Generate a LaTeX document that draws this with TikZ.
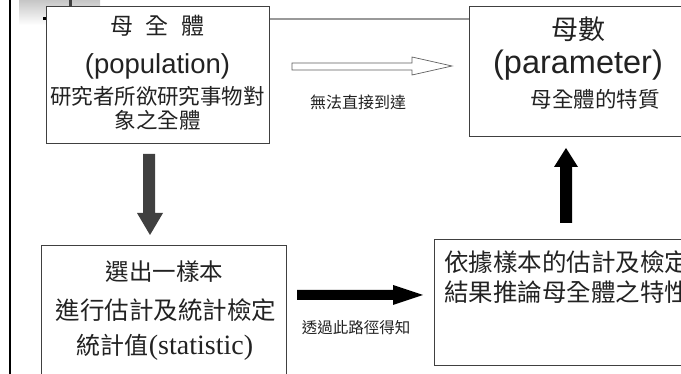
\documentclass[tikz,border=0pt]{standalone}
\usepackage{fontspec}
\setmainfont{Liberation Sans}
\newfontfamily\cjk{Noto Sans CJK TC}
\newfontfamily\serifL{Liberation Serif}
\newcommand\fsz[1]{\fontsize{#1}{#1}\selectfont}
\definecolor{boxc}{HTML}{404040}
\definecolor{txtc}{HTML}{222222}
\definecolor{arrc}{HTML}{404040}
\definecolor{hollowc}{HTML}{606060}
\definecolor{rulec}{HTML}{999999}
\begin{document}
\begin{tikzpicture}[x=1pt,y=-1pt,
  box/.style={draw=boxc, line width=1pt, fill=white, inner sep=0pt},
  txt/.style={inner sep=0pt, text=txtc},
  blockarrow/.style={fill=black, draw=none}]
\useasboundingbox (0,0) rectangle (681,374);
\clip (0,0) rectangle (681,374);
\fill[white] (0,0) rectangle (681,374);
% template decoration
\shade[top color=gray!45, bottom color=white] (19,0) rectangle (100,25);
\fill[black!75] (69,0) rectangle (72,6);
\draw[rulec, line width=2pt] (269,19.5) -- (469,19.5);
\fill[black] (8.5,0) rectangle (11,374);
\fill[black] (43,17) rectangle (46,20);
% boxes
\node[box, minimum width=223pt, minimum height=137pt] (pop) at (157.5,75) {};
\node[box, minimum width=221pt, minimum height=130pt] (par) at (579.5,72) {};
\node[box, minimum width=245pt, minimum height=144pt] (smp) at (163.5,318) {};
\node[box, minimum width=256pt, minimum height=126pt] (inf) at (562,303) {};
% box 1 texts
\node[txt] (p1) at (157.5,26) {\cjk\fsz{23}母\hspace{13pt}全\hspace{13pt}體};
\node[txt] (p2) at (157.5,66) {\fsz{27.5}(population)};
\node[txt] (p3) at (157.5,96) {\cjk\fsz{21.5}研究者所欲研究事物對};
\node[txt] (p4) at (157.5,120) {\cjk\fsz{21.5}象之全體};
% box 2 texts
\node[txt] (q1) at (578,29) {\cjk\fsz{27}母數};
\node[txt] (q2) at (578,65) {\fsz{32.5}(parameter)};
\node[txt] (q3) at (595,99) {\cjk\fsz{21.5}母全體的特質};
% box 3 texts
\node[txt] (s1) at (164.5,272) {\cjk\fsz{23.5}選出一樣本};
\node[txt] (s2) at (166,310) {\cjk\fsz{24.5}進行估計及統計檢定};
\node[txt] (s3) at (165,347) {\cjk\fsz{24}統計值{\serifL\fsz{28}(statistic)}};
% box 4 texts
\node[txt, anchor=west] (i1) at (444,262) {\cjk\fsz{24.5}依據樣本的估計及檢定};
\node[txt, anchor=west] (i2) at (444,292) {\cjk\fsz{24.5}結果推論母全體之特性};
% labels
\node[txt] (l1) at (358,102) {\cjk\fsz{16}無法直接到達};
\node[txt] (l2) at (356,328) {\cjk\fsz{15.5}透過此路徑得知};
% arrows
\draw[hollowc, line width=0.7pt, fill=white]
  (292,63) -- (412,63) -- (412,57) -- (452,66) -- (412,75) -- (412,70) -- (292,70) -- cycle;
\fill[arrc] (143,154) -- (155,154) -- (155,213) -- (163,213) -- (150,235) -- (137,213) -- (143,213) -- cycle;
\fill[black] (560,223) -- (572,223) -- (572,167) -- (578,167) -- (566,148) -- (554,167) -- (560,167) -- cycle;
\fill[black] (297,290) -- (393,290) -- (393,285) -- (423,295) -- (393,305) -- (393,300) -- (297,300) -- cycle;
\end{tikzpicture}
\end{document}
